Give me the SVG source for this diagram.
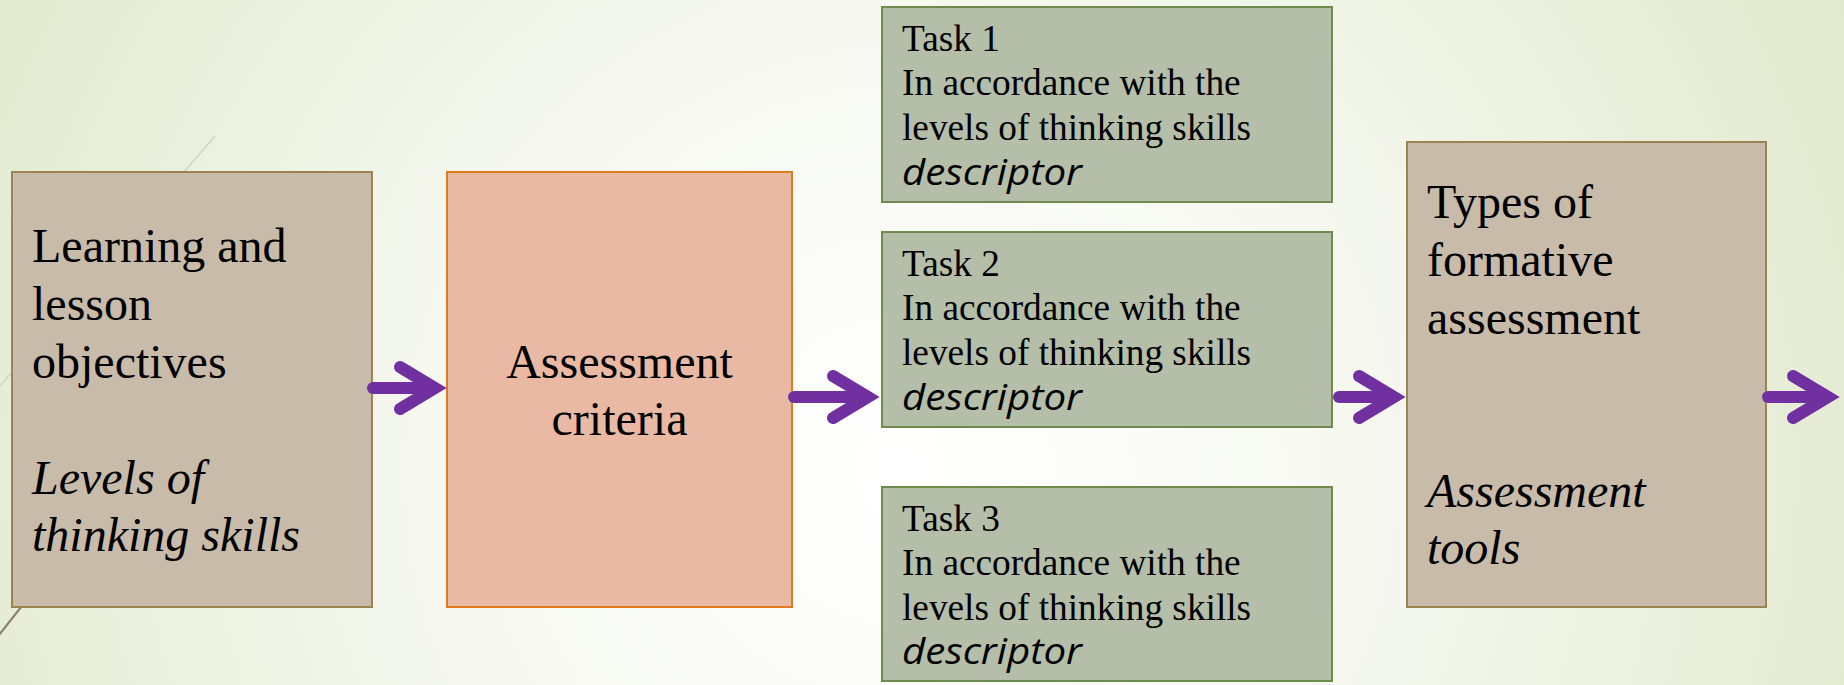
<svg xmlns="http://www.w3.org/2000/svg" width="1844" height="685" viewBox="0 0 1844 685">
<defs>
<radialGradient id="bg" gradientUnits="userSpaceOnUse" cx="900" cy="470" r="1050">
<stop offset="0" stop-color="#FFFFFF"/>
<stop offset="0.45" stop-color="#F6F8F0"/>
<stop offset="1" stop-color="#E1E9CE"/>
</radialGradient>
<marker id="head" markerUnits="userSpaceOnUse" viewBox="0 0 70 60" markerWidth="70" markerHeight="60" refX="48" refY="30" orient="auto">
<path d="M15 9 L50 30 L15 51" fill="none" stroke="#7030A0" stroke-width="12" stroke-linecap="round" stroke-linejoin="miter" stroke-miterlimit="10"/>
</marker>
<style>
.tan{fill:#C8BBAA;stroke:#9C8350;stroke-width:2}
.salmon{fill:#EAB9A3;stroke:#E07B20;stroke-width:2}
.sage{fill:#B4BEA9;stroke:#6E8A4C;stroke-width:2}
.big{font-family:"Liberation Serif","Times New Roman",serif;font-size:48px;fill:#000}
.small{font-family:"Liberation Serif","Times New Roman",serif;font-size:37.3px;fill:#000}
.it{font-style:italic}
.desc{font-family:"Open Sans","Noto Sans",sans-serif;font-style:italic;font-weight:400;font-size:37px;fill:#000}
.arrow{fill:none;stroke:#7030A0;stroke-width:12;stroke-linecap:round;marker-end:url(#head)}
</style>
</defs>
<rect x="0" y="0" width="1844" height="685" fill="url(#bg)"/>
<g id="decor">
<line x1="215" y1="136" x2="0" y2="386" stroke="#CDD2BE" stroke-width="1.3"/>
<line x1="40" y1="583" x2="-5" y2="640" stroke="#8C8070" stroke-width="2.2"/>
</g>
<g id="objectives">
<rect class="tan" x="12" y="172" width="360" height="435"/>
<text class="big" x="32" y="262">Learning and</text>
<text class="big" x="32" y="320">lesson</text>
<text class="big" x="32" y="378">objectives</text>
<text class="big it" x="32" y="494">Levels of</text>
<text class="big it" x="32" y="551">thinking skills</text>
</g>
<g id="criteria">
<rect class="salmon" x="447" y="172" width="345" height="435"/>
<text class="big" x="619.5" y="378" text-anchor="middle">Assessment</text>
<text class="big" x="619.5" y="435" text-anchor="middle">criteria</text>
</g>
<g id="task1">
<rect class="sage" x="882" y="7" width="450" height="195"/>
<text class="small" x="902" y="51">Task 1</text>
<text class="small" x="902" y="95">In accordance with the</text>
<text class="small" x="902" y="140">levels of thinking skills</text>
<text class="desc" x="902" y="185" textLength="180" lengthAdjust="spacingAndGlyphs">descriptor</text>
</g>
<g id="task2">
<rect class="sage" x="882" y="232" width="450" height="195"/>
<text class="small" x="902" y="276">Task 2</text>
<text class="small" x="902" y="320">In accordance with the</text>
<text class="small" x="902" y="365">levels of thinking skills</text>
<text class="desc" x="902" y="410" textLength="180" lengthAdjust="spacingAndGlyphs">descriptor</text>
</g>
<g id="task3">
<rect class="sage" x="882" y="487" width="450" height="194"/>
<text class="small" x="902" y="531">Task 3</text>
<text class="small" x="902" y="575">In accordance with the</text>
<text class="small" x="902" y="620">levels of thinking skills</text>
<text class="desc" x="902" y="664" textLength="180" lengthAdjust="spacingAndGlyphs">descriptor</text>
</g>
<g id="formative">
<rect class="tan" x="1407" y="142" width="359" height="465"/>
<text class="big" x="1427" y="218">Types of</text>
<text class="big" x="1427" y="276">formative</text>
<text class="big" x="1427" y="334">assessment</text>
<text class="big it" x="1427" y="507">Assessment</text>
<text class="big it" x="1427" y="564">tools</text>
</g>
<g id="connectors">
<path class="arrow" d="M373 388 L433 388"/>
<path class="arrow" d="M794 397 L866 397"/>
<path class="arrow" d="M1339 397 L1392 397"/>
<path class="arrow" d="M1768 397 L1826 397"/>
</g>
</svg>
